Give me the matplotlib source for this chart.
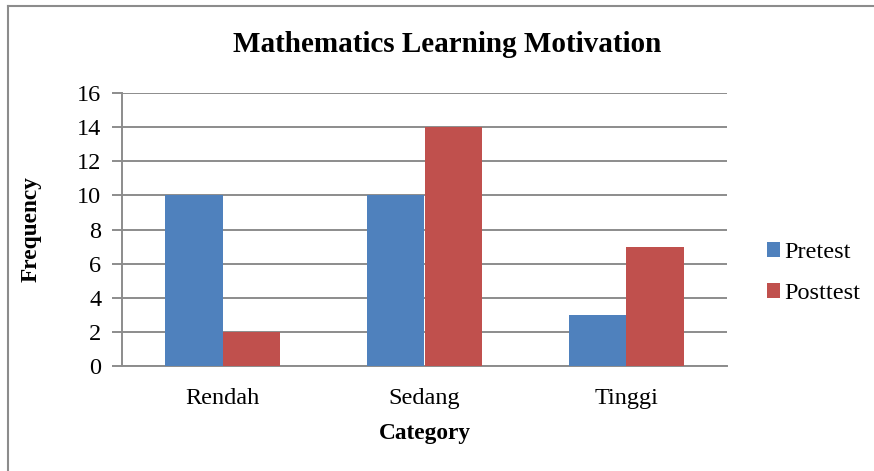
import numpy as np
import matplotlib
matplotlib.use('Agg')
import matplotlib.pyplot as plt

plt.rcParams['font.family'] = ['Liberation Serif', 'DejaVu Serif']

categories = ['Rendah', 'Sedang', 'Tinggi']
pretest = [10, 10, 3]
posttest = [2, 14, 7]
y_ticks = [0, 2, 4, 6, 8, 10, 12, 14, 16]

fig = plt.figure(figsize=(8.74, 4.71), dpi=100)
ax = fig.add_axes([122 / 874, 1 - 366 / 471, (727 - 122) / 874, (366 - 93) / 471])

x = np.arange(len(categories))
w = 0.285
ax.bar(x - w / 2, pretest, w, color='#4F81BD', label='Pretest', zorder=3)
ax.bar(x + w / 2, posttest, w, color='#C0504D', label='Posttest', zorder=3)

ax.set_xlim(-0.5, 2.5)
ax.set_ylim(0, 16)
ax.set_yticks(y_ticks)
ax.yaxis.grid(True, color='#8c8c8c', linewidth=1.4, zorder=0)
ax.tick_params(axis='y', length=7, width=1.4, color='#8c8c8c', labelsize=17.5, pad=8)
ax.set_xticks(x)
ax.set_xticklabels(categories)
ax.tick_params(axis='x', length=0, labelsize=17.5, pad=16)

for s in ['top', 'right']:
    ax.spines[s].set_visible(False)
ax.spines['left'].set_color('#8c8c8c')
ax.spines['left'].set_linewidth(1.4)
ax.spines['bottom'].set_color('#8c8c8c')
ax.spines['bottom'].set_linewidth(1.4)

ax.set_xlabel('Category', fontsize=16.8, fontweight='bold', labelpad=10)
ax.set_ylabel('Frequency', fontsize=16.8, fontweight='bold', labelpad=25)
fig.text(447 / 874, 1 - 45 / 471, 'Mathematics Learning Motivation',
         fontsize=21, fontweight='bold', ha='center', va='center')

ax.legend(loc='center left', bbox_to_anchor=(1.03, 0.34), frameon=False,
          fontsize=17.5, handlelength=0.55, handleheight=0.55, handletextpad=0.17,
          labelspacing=0.83)

# chart frame (only top and left edges are visible in the crop)
fig.add_artist(plt.Line2D([8 / 874, 8 / 874], [0, 1 - 6 / 471], color='#8c8c8c',
                          linewidth=1.5, transform=fig.transFigure))
fig.add_artist(plt.Line2D([8 / 874, 1], [1 - 6 / 471, 1 - 6 / 471], color='#8c8c8c',
                          linewidth=1.5, transform=fig.transFigure))

fig.savefig('out.png', dpi=100)
